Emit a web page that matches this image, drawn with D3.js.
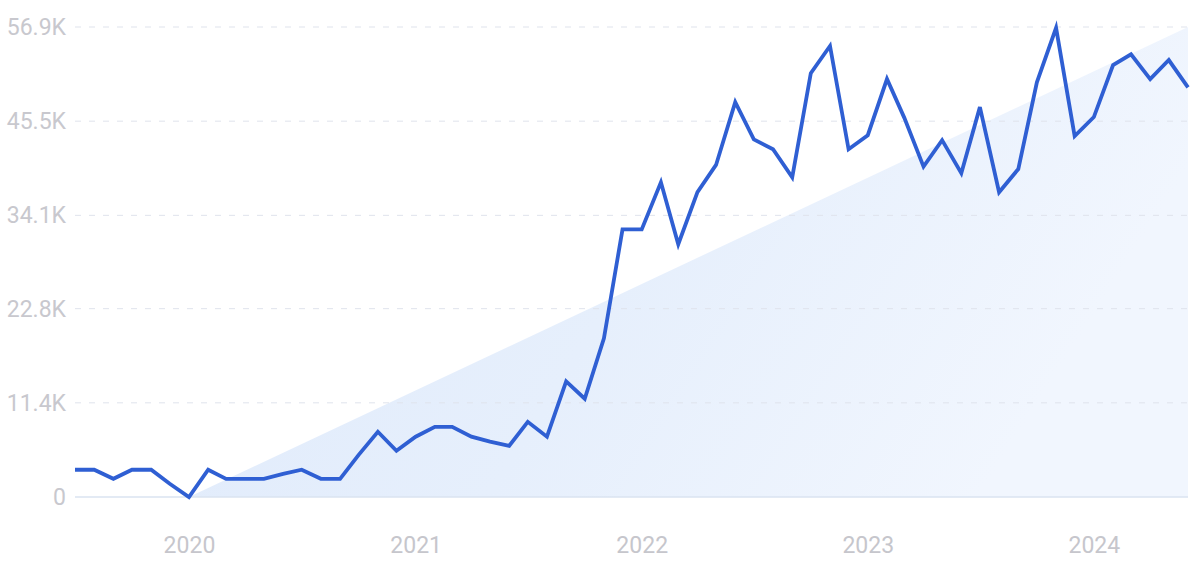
<!DOCTYPE html>
<html><head><meta charset="utf-8">
<script src="https://cdn.jsdelivr.net/npm/d3@7"></script>
<style>html,body{margin:0;padding:0;background:#fff;}svg{display:block;}</style>
</head><body>
<svg id="chart" width="1200" height="562"></svg>
<script>
const startMonth = "2019-07";
const values = [3.3,3.3,2.2,3.3,3.3,1.6,0,3.3,2.2,2.2,2.2,2.8,3.3,2.2,2.2,5.1,7.9,5.6,7.3,8.5,8.5,7.3,6.7,6.2,9.1,7.3,14.0,11.9,19.2,32.4,32.4,38.1,30.6,36.9,40.2,47.8,43.3,42.1,38.7,51.3,54.6,42.1,43.8,50.6,45.9,40.0,43.2,39.2,47.2,36.9,39.7,50.2,56.8,43.7,46.0,52.3,53.6,50.6,52.9,49.6];
const yTicks = [0, 11.4, 22.8, 34.1, 45.5, 56.9];
const yTickLabels = ["0","11.4K","22.8K","34.1K","45.5K","56.9K"];
const xTickLabels = ["2020","2021","2022","2023","2024"];
const trendStart = {month: "2020-01", value: 0};
const trendEnd = {month: "2024-06", value: 56.9};

const parse = d3.timeParse("%Y-%m");
const t0 = parse(startMonth);
const data = values.map((v,i)=>({date:d3.timeMonth.offset(t0,i), value:v}));

const svg = d3.select("#chart");
const x = d3.scaleTime().domain([data[0].date, data[data.length-1].date]).range([75, 1188]);
const y = d3.scaleLinear().domain([0, 56.9]).range([497, 27]);
const FONT = "Roboto, 'Noto Sans', sans-serif";

const defs = svg.append("defs");
const grad = defs.append("linearGradient").attr("id","fillg").attr("x1","0").attr("y1","0").attr("x2","1").attr("y2","0.3");
grad.append("stop").attr("offset","0").attr("stop-color","#dfeafb");
grad.append("stop").attr("offset","0.55").attr("stop-color","#e6effc");
grad.append("stop").attr("offset","1").attr("stop-color","#f1f6fe");

// trend area
const tA = parse(trendStart.month), tB = parse(trendEnd.month);
const trend = [{date:tA, value:trendStart.value},{date:tB, value:trendEnd.value}];
const area = d3.area().x(d=>x(d.date)).y0(y(0)).y1(d=>y(d.value));
svg.append("path").datum(trend).attr("d", area).attr("fill","url(#fillg)");

// grid
const gGrid = svg.append("g");
yTicks.forEach((t,i)=>{
  if(i===0){
    gGrid.append("line").attr("x1",75).attr("x2",1188).attr("y1",y(t)).attr("y2",y(t))
      .attr("stroke","#dae3f1").attr("stroke-width",1.3);
  } else {
    gGrid.append("line").attr("x1",75).attr("x2",1188).attr("y1",y(t)).attr("y2",y(t))
      .attr("stroke","#dfe3ec").attr("stroke-width",1).attr("stroke-dasharray","6,8");
  }
});

// y labels
const yAxis = d3.axisLeft(y).tickValues(yTicks).tickSize(0).tickPadding(0)
  .tickFormat((d,i)=>yTickLabels[i]);
const gy = svg.append("g").attr("transform","translate(66,0)").call(yAxis);
gy.select(".domain").remove();
gy.selectAll("text").attr("fill","#c8c8ce").attr("font-size","23px").attr("font-family",FONT);

// x labels
const xTicks = xTickLabels.map(s=>parse(s+"-01"));
const xAxis = d3.axisBottom(x).tickValues(xTicks).tickSize(0).tickPadding(0).tickFormat((d,i)=>xTickLabels[i]);
const gx = svg.append("g").attr("transform","translate(0,537)").call(xAxis);
gx.select(".domain").remove();
gx.selectAll("text").attr("fill","#c6c6cc").attr("font-size","23px").attr("font-family",FONT);

// line
const line = d3.line().x(d=>x(d.date)).y(d=>y(d.value));
svg.append("path").datum(data).attr("d", line).attr("fill","none")
  .attr("stroke","#2f5fd3").attr("stroke-width",3.8).attr("stroke-linejoin","miter").attr("stroke-linecap","butt");
</script>
</body></html>
